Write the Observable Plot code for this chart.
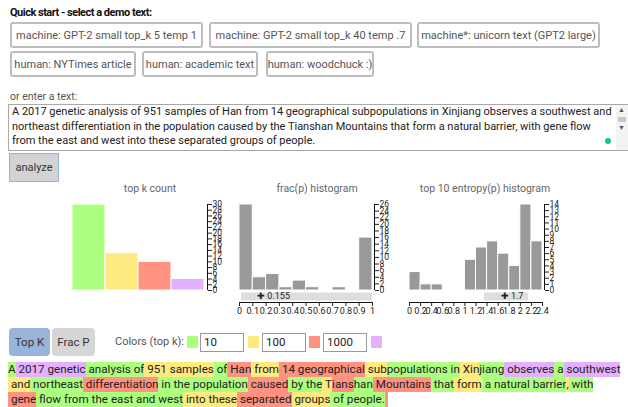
<!DOCTYPE html>
<html><head><meta charset="utf-8">
<script src="https://cdn.jsdelivr.net/npm/d3@7"></script>
<script src="https://cdn.jsdelivr.net/npm/@observablehq/plot@0.6"></script>
<style>
body{margin:0;background:#fff;font-family:Roboto,sans-serif;}
#page{position:relative;width:628px;height:407px;overflow:hidden;}
.abs{position:absolute;}
.btn{position:absolute;box-sizing:border-box;border:2px solid #bdbdbd;border-radius:3px;background:#fff;color:#555;font-size:11px;display:flex;align-items:center;justify-content:center;white-space:nowrap;}
.title{position:absolute;width:200px;text-align:center;font-size:10.5px;color:#666;top:182px;line-height:14px;}
.sq{position:absolute;width:11px;height:12px;top:336px;}
.inp{position:absolute;top:333px;height:19px;width:44px;box-sizing:border-box;border:1px solid #999;font-size:11.5px;color:#222;padding-left:3px;line-height:17px;background:#fff;}
#tok{position:absolute;left:8px;top:362px;width:613px;font-size:11.65px;line-height:15px;color:#222;}
#tok span{display:inline-block;white-space:pre;}
</style></head>
<body><div id="page">
<div class="abs" style="left:10px;top:6px;font-size:11px;font-weight:bold;color:#111;letter-spacing:-0.5px;">Quick start - select a demo text:</div>
<div id="btns"></div>
<div class="abs" style="left:10px;top:90px;font-size:10.5px;color:#555;">or enter a text:</div>
<div class="abs" style="left:8px;top:104px;width:640px;height:47px;box-sizing:border-box;border:1px solid #a9a9a9;"></div>
<div id="ta" class="abs" style="left:12px;top:105px;font-size:11px;line-height:14.5px;color:#222;white-space:nowrap;"></div>
<div class="abs" style="left:616px;top:105px;width:12px;height:45px;background:#f3f3f3;"></div>
<div class="abs" style="left:618px;top:106px;font-size:7px;color:#555;">▲</div>
<div class="abs" style="left:618px;top:117px;width:8px;height:5px;background:#c8c8c8;"></div>
<div class="abs" style="left:618px;top:124px;font-size:7px;color:#555;">▼</div>
<div class="abs" style="left:605px;top:138px;width:6px;height:6px;border-radius:50%;background:#15c39a;"></div>
<div class="abs" style="left:9px;top:153px;width:50px;height:29px;box-sizing:border-box;background:#d3d3d3;border:1px solid #8fb4e0;color:#333;font-size:11px;display:flex;align-items:center;justify-content:center;">analyze</div>
<div class="title" style="left:50px;">top k count</div>
<div class="title" style="left:217px;">frac(p) histogram</div>
<div class="title" style="left:385px;">top 10 entropy(p) histogram</div>
<div id="c1" class="abs" style="left:60px;top:195px;"></div>
<div id="c2" class="abs" style="left:230px;top:195px;"></div>
<div id="c3" class="abs" style="left:400px;top:195px;"></div>
<div class="abs" style="left:9px;top:328px;width:41px;height:28px;border-radius:4px;background:#99b4d9;color:#333;font-size:11.5px;display:flex;align-items:center;justify-content:center;">Top K</div>
<div class="abs" style="left:52px;top:328px;width:43px;height:28px;border-radius:4px;background:#d6d6d6;color:#333;font-size:11.5px;display:flex;align-items:center;justify-content:center;">Frac P</div>
<div class="abs" style="left:115px;top:335px;font-size:11px;color:#555;">Colors (top k):</div>
<div id="legend"></div>
<div id="tok"></div>
</div>
<script>
// ---- data ----
const demoButtons = [
  ["machine: GPT-2 small top_k 5 temp 1", 10, 22, 193],
  ["machine: GPT-2 small top_k 40 temp .7", 209, 22, 203],
  ["machine*: unicorn text (GPT2 large)", 417, 22, 183],
  ["human: NYTimes article", 10, 51, 126],
  ["human: academic text", 142, 51, 116],
  ["human: woodchuck :)", 266, 51, 108]
];
const textLines = [
  "A 2017 genetic analysis of 951 samples of Han from 14 geographical subpopulations in Xinjiang observes a southwest and",
  "northeast differentiation in the population caused by the Tianshan Mountains that form a natural barrier, with gene flow",
  "from the east and west into these separated groups of people."
];
const topkLabels = ["top 10", "top 100", "top 1000", "rest"];
const topkCounts = [30, 13, 10, 4];
const topkColors = ["#ADFF80", "#FFEA80", "#FF9280", "#E5B0FF"];
const topkThresholds = ["10", "100", "1000"];
const topkYTicks = [0,2,4,6,8,10,12,14,16,18,20,22,24,26,28,30];

const fracEdges = [0,0.1,0.2,0.3,0.4,0.5,0.6,0.7,0.8,0.9,1];
const fracCounts = [26,4,5,1,3,1,0,1,0,16];
const fracYTicks = [0,2,4,6,8,10,12,14,16,18,20,22,24,26];
const fracXTicks = [0,0.1,0.2,0.3,0.4,0.5,0.6,0.7,0.8,0.9,1];
const fracXLabels = ["0","0.1","0.2","0.3","0.4","0.5","0.6","0.7","0.8","0.9","1"];
const fracMean = 0.155;
const fracBand = [0.015, 1];

const entEdges = [0,0.2,0.4,0.6,0.8,1,1.2,1.4,1.6,1.8,2,2.2,2.4];
const entCounts = [3,1,1,0,0,5,7,8,6,4,14,8];
const entYTicks = [0,1,2,3,4,5,6,7,8,9,10,11,12,13,14];
const entXTicks = [0,0.2,0.4,0.6,0.8,1,1.2,1.4,1.6,1.8,2,2.2,2.4];
const entXLabels = ["0","0.2","0.4","0.6","0.8","1","1.2","1.4","1.6","1.8","2","2.2","2.4"];
const entMean = 1.7;
const entBand = [1.35, 2.15];

const tokens = [
  ["A",0],[" 2017",3],[" genetic",3],[" analysis",0],[" of",0],[" 951",1],[" samples",1],[" of",0],[" Han",2],[" from",1],[" 14",2],[" geographical",2],[" sub",1],["populations",0],[" in",0],[" Xin",1],["jiang",0],[" observes",3],[" a",0],[" southwest",3],
  [" and",1],[" northeast",0],[" differentiation",2],[" in",0],[" the",0],[" population",0],[" caused",2],[" by",0],[" the",0],[" T",1],["ians",2],["han",0],[" Mountains",2],[" that",0],[" form",1],[" a",0],[" natural",0],[" barrier",0],[",",1],[" with",0],
  [" gene",2],[" flow",0],[" from",0],[" the",0],[" east",0],[" and",0],[" west",0],[" into",1],[" these",1],[" separated",2],[" groups",1],[" of",0],[" people",0],[".",0],[" ",2]
];

// ---- UI ----
const btns = document.getElementById("btns");
for (const [t,l,top,w] of demoButtons) {
  const b = document.createElement("div"); b.className = "btn"; b.textContent = t;
  b.style.left = l+"px"; b.style.top = top+"px"; b.style.width = w+"px"; b.style.height = "26px";
  btns.appendChild(b);
}
document.getElementById("ta").innerHTML = textLines.map(s => `<div>${s}</div>`).join("");
const legend = document.getElementById("legend");
const sqX = [187, 248, 309, 371], inX = [200, 262, 323];
topkColors.forEach((c,i) => {
  const s = document.createElement("div"); s.className="sq"; s.style.left = sqX[i]+"px"; s.style.background = c; legend.appendChild(s);
  if (i < 3) { const n = document.createElement("div"); n.className="inp"; n.style.left = inX[i]+"px"; n.textContent = topkThresholds[i]; legend.appendChild(n); }
});
const tok = document.getElementById("tok");
for (const [t,k] of tokens) { const s = document.createElement("span"); s.textContent = t; s.style.background = topkColors[k]; tok.appendChild(s); }

// ---- charts ----
const style = {background:"transparent", fontFamily:"Roboto, sans-serif", fontSize:"8.5px", color:"#222", overflow:"visible"};
const topkData = topkLabels.map((label,i) => ({label, i, count: topkCounts[i], color: topkColors[i]}));
const c1 = Plot.plot({
  width:175, height:100, marginLeft:12, marginRight:31, marginTop:9, marginBottom:5, style,
  x:{domain:[0, topkLabels.length], axis:null},
  y:{domain:[0,30]},
  color:{type:"identity"},
  marks:[
    Plot.rectY(topkData, {x1:"i", x2:d=>d.i+1, y:"count", fill:"color", stroke:"#fff", strokeWidth:1}),
    Plot.ruleX([topkLabels.length], {dx:3, stroke:"#111"}),
    Plot.axisY({anchor:"right", ticks:topkYTicks, tickSize:4, tickPadding:1, dx:3, fontSize:8.5, label:null})
  ]
});
document.getElementById("c1").appendChild(c1);

function hist(edges, counts, yTicks, xTicks, xLabels, mean, band, ymax) {
  const bins = counts.map((c,i) => ({x0: edges[i], x1: edges[i+1], count: c}));
  const x0 = edges[0], x1 = edges[edges.length-1];
  return Plot.plot({
    width:165, height:125, marginLeft: 9, marginRight: 23, marginTop:9, marginBottom:30, style,
    x:{domain:[x0,x1]},
    y:{domain:[0,ymax]},
    marks:[
      Plot.rectY(bins, {x1:"x0", x2:"x1", y:"count", fill:"#999", stroke:"#fff", strokeWidth:1}),
      Plot.ruleX([x1], {dx:2, stroke:"#111"}),
      Plot.axisY({anchor:"right", ticks:yTicks, tickSize:4, tickPadding:1, dx:2, fontSize:8.5, label:null}),
      Plot.ruleY([band], {y:()=>0, x1:d=>d[0], x2:d=>d[1], dy:6, stroke:"#dedede", strokeWidth:8}),
      Plot.text([mean], {x:d=>d, y:()=>0, dy:6, dx:-3, text:d=>"✚ "+d, textAnchor:"start", fontSize:9, fill:"#222"}),
      Plot.ruleY([0], {x1:()=>x0, x2:()=>x1, dy:12, stroke:"#111"}),
      Plot.axisX({ticks:xTicks, tickFormat:d=>xLabels[xTicks.indexOf(d)], tickSize:4, tickPadding:1, dy:12, fontSize:9, label:null})
    ]
  });
}
document.getElementById("c2").appendChild(hist(fracEdges, fracCounts, fracYTicks, fracXTicks, fracXLabels, fracMean, fracBand, 26));
const c3 = hist(entEdges, entCounts, entYTicks, entXTicks, entXLabels, entMean, entBand, 14);
document.getElementById("c3").appendChild(c3);
</script>
</body></html>
